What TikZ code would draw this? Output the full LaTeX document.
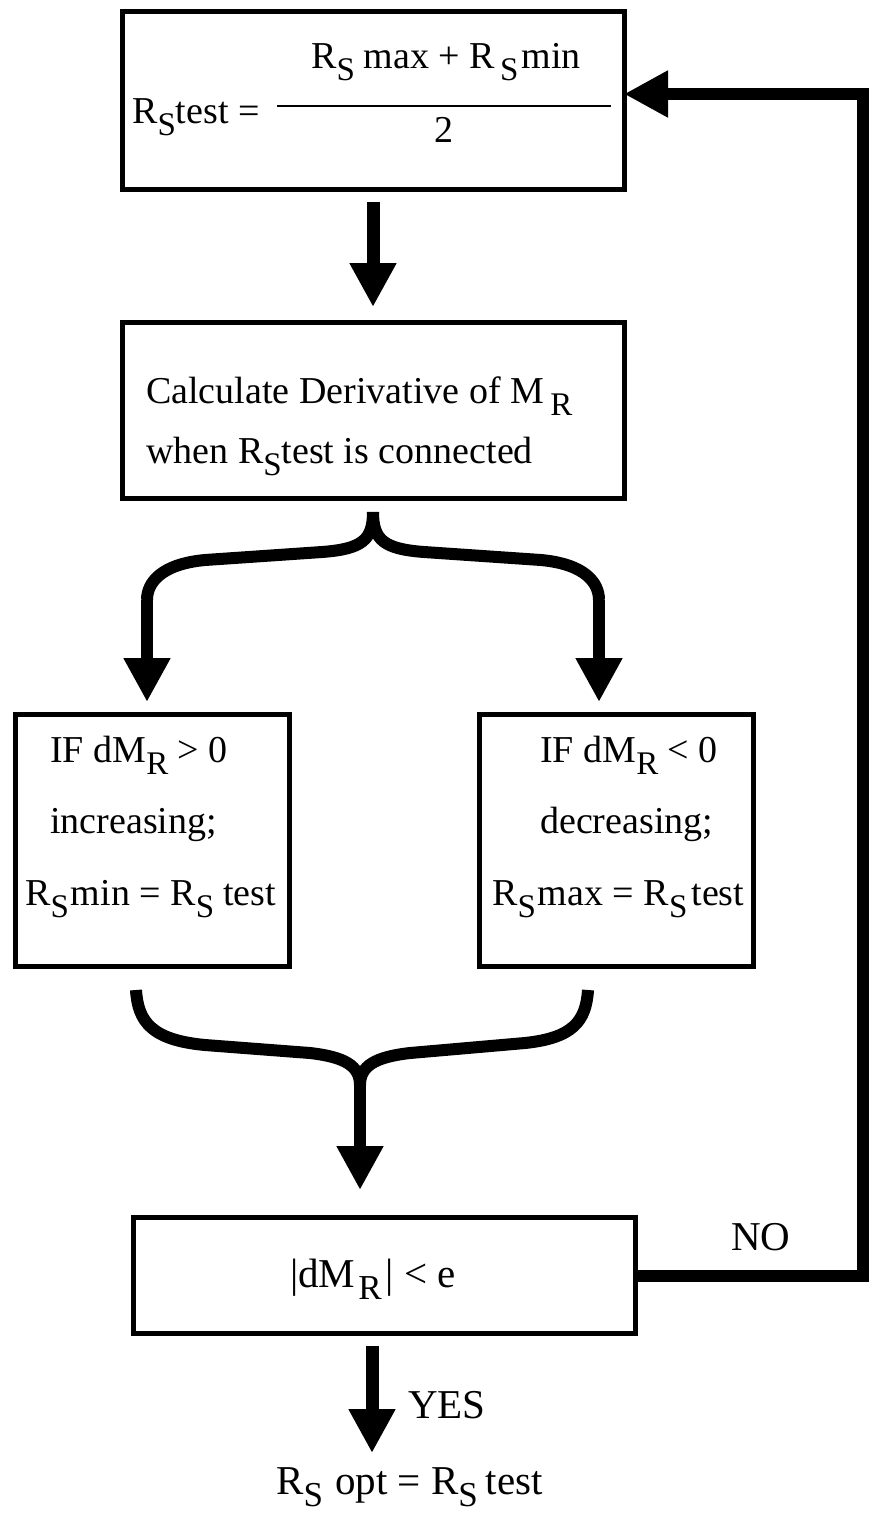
\documentclass[tikz,border=0pt]{standalone}
\usepackage{fontspec}
\setmainfont{Liberation Serif}
\usetikzlibrary{arrows.meta}
\newcommand\lowsub[1]{\raisebox{-12pt}{\fontsize{33}{33}\selectfont #1}}
\newcommand\bigsub[1]{\raisebox{-12pt}{\fontsize{35}{35}\selectfont #1}}
\begin{document}
\begin{tikzpicture}[x=1pt,y=-1pt,
  font=\fontsize{38}{46}\selectfont,
  flowbox/.style={draw,line width=5pt,inner sep=0pt,outer sep=0pt},
  txt/.style={inner sep=0pt,anchor=base west},
  bigtxt/.style={inner sep=0pt,anchor=base west,font=\fontsize{41}{48}\selectfont},
  ctxt/.style={inner sep=0pt,anchor=base},
  flow/.style={line width=13pt,-{Triangle[width=44pt,length=44pt]}},
  bracepath/.style={line width=12pt},
  fracline/.style={line width=1.6pt}]
\useasboundingbox (0,0) rectangle (869,1515);

% boxes
\node[flowbox,minimum width=502pt,minimum height=178pt] (b1) at (373,100) {};
\node[flowbox,minimum width=502pt,minimum height=176pt] (b2) at (373,410) {};
\node[flowbox,minimum width=274pt,minimum height=252pt] (b3) at (152,840) {};
\node[flowbox,minimum width=274pt,minimum height=252pt] (b4) at (616,840) {};
\node[flowbox,minimum width=502pt,minimum height=116pt] (b5) at (384,1275) {};

% box 1 text
\node[txt] (t1a) at (132,123) {R\lowsub{S}test =};
\node[txt] (t1n) at (311,68) {R\lowsub{S}\hspace{9pt}max + R\hspace{5pt}\lowsub{S}\hspace{3pt}min};
\node[ctxt] (t1d) at (444,142) {2};
\coordinate (fl1) at (277,106);
\coordinate (fl2) at (611,106);
\draw[fracline] (fl1) -- (fl2);

% box 2 text
\node[txt] (t2a) at (146,403) {Calculate Derivative of M\,\lowsub{R}};
\node[txt] (t2b) at (146,463) {when R\lowsub{S}test is connected};

% box 3 text
\node[txt] (t3a) at (50,762) {IF dM\lowsub{R} > 0};
\node[txt] (t3b) at (50,833) {increasing;};
\node[txt] (t3c) at (25,905) {R\lowsub{S}\hspace{2pt}min = R\lowsub{S}\hspace{9pt}test};

% box 4 text
\node[txt] (t4a) at (540,762) {IF dM\lowsub{R} < 0};
\node[txt] (t4b) at (540,833) {decreasing;};
\node[txt] (t4c) at (492,905) {R\lowsub{S}\hspace{2pt}max = R\lowsub{S}\hspace{4pt}test};

% box 5 text
\node[bigtxt] (t5) at (290,1287) {|dM\hspace{3pt}\bigsub{R}\hspace{4pt}| < e};

% labels
\node[bigtxt] (lno) at (731,1250) {NO};
\node[bigtxt] (lyes) at (408,1418) {YES};
\node[bigtxt] (lout) at (276,1494) {R\bigsub{S}\hspace{12pt}opt = R\bigsub{S}\hspace{8pt}test};

% arrow 1 -> 2
\draw[flow,shorten <=13pt,shorten >=15pt] (b1.south) -- (b2.north);

% split brace
\coordinate (sTop) at (373,512);
\coordinate (sL) at (147,600);
\coordinate (sR) at (599,600);
\coordinate (tipL) at (147,702);
\coordinate (tipR) at (599,702);
\draw[bracepath] (sTop) .. controls (373,540) and (362,549) .. (322,552)
  -- (205,560) .. controls (162,564) and (147,582) .. (sL);
\draw[bracepath] (sTop) .. controls (373,540) and (384,549) .. (424,552)
  -- (541,560) .. controls (584,564) and (599,582) .. (sR);
\draw[flow,line width=12pt] (sL) -- (tipL);
\draw[flow,line width=12pt] (sR) -- (tipR);

% merge brace
\coordinate (mL) at (136,990);
\coordinate (mR) at (588,990);
\coordinate (mJ) at (360,1085);
\coordinate (mTip) at (360,1190);
\draw[bracepath] (mL) .. controls (138,1022) and (152,1040) .. (205,1045)
  -- (310,1053) .. controls (345,1057) and (360,1066) .. (mJ);
\draw[bracepath] (mR) .. controls (586,1022) and (572,1038) .. (525,1043)
  -- (410,1053) .. controls (375,1057) and (360,1066) .. (mJ);
\draw[flow,line width=12pt] (mJ) -- (mTip);

% feedback NO
\coordinate (fbB) at (863,1276);
\coordinate (fbT) at (863,94);
\draw[flow,line width=12pt] (b5.east |- fbB) -- (fbB) -- (fbT) -- (b1.east |- fbT);

% YES
\coordinate (yTip) at (372,1453);
\draw[flow,shorten <=13pt] (b5.south -| yTip) -- (yTip);
\end{tikzpicture}
\end{document}
